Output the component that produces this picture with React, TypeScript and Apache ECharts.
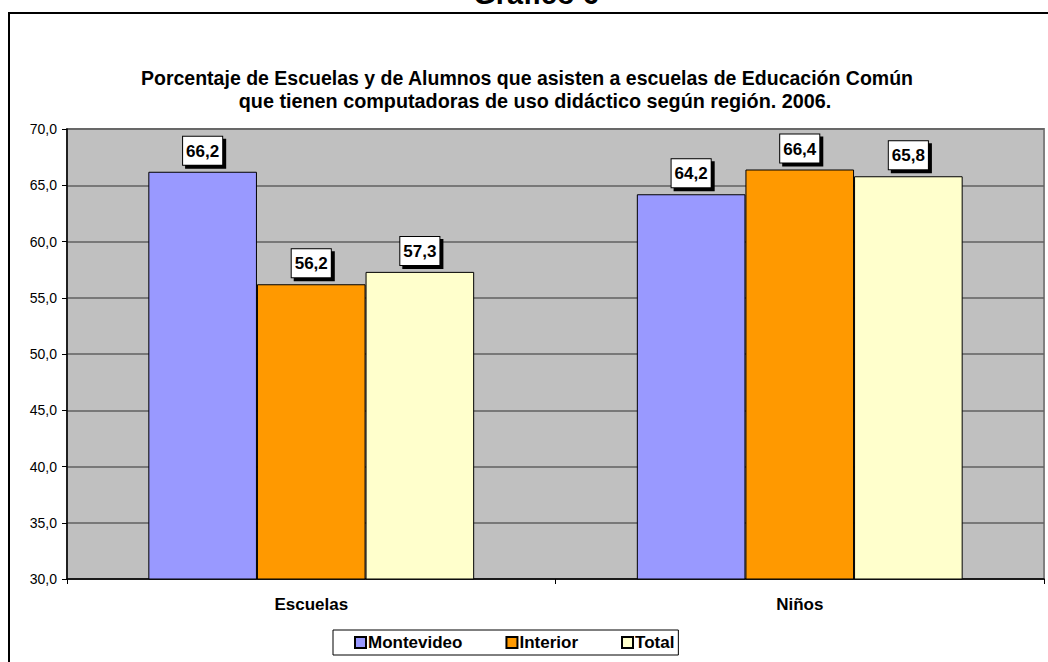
import React, { useEffect, useRef } from "react";
import * as echarts from "echarts";

const categories = ["Escuelas", "Niños"];
const seriesNames = ["Montevideo", "Interior", "Total"];
const montevideo = [66.2, 64.2];
const interior = [56.2, 66.4];
const total = [57.3, 65.8];
const seriesColors = ["#9999FF", "#FF9900", "#FFFFCC"];
const yMin = 30;
const yMax = 70;
const yStep = 5;
const chartTitle = "Gráfico 6";
const subtitleLines = [
  "Porcentaje de Escuelas y de Alumnos que asisten a escuelas de Educación Común",
  "que tienen computadoras de uso didáctico según región. 2006.",
];

const FONT = "'Liberation Sans', Arial, sans-serif";
const fmt = (v: number) => v.toFixed(1).replace(".", ",");

export default function App() {
  const ref = useRef<HTMLDivElement>(null);
  useEffect(() => {
    if (!ref.current) return;
    const chart = echarts.init(ref.current, undefined, { renderer: "svg" });
    const values = [montevideo, interior, total];
    chart.setOption({
      animation: false,
      backgroundColor: "#ffffff",
      textStyle: { fontFamily: FONT },
      graphic: [
        {
          type: "text",
          x: 536,
          y: 8,
          style: {
            text: chartTitle,
            font: `bold 29px ${FONT}`,
            fill: "#000",
            textAlign: "center",
            textVerticalAlign: "bottom",
          },
        },
        {
          type: "line",
          shape: { x1: 8, y1: 13, x2: 1048, y2: 13 },
          style: { stroke: "#000", lineWidth: 2 },
        },
        {
          type: "line",
          shape: { x1: 9, y1: 12, x2: 9, y2: 662 },
          style: { stroke: "#000", lineWidth: 2 },
        },
        {
          type: "text",
          x: 527,
          y: 78,
          style: {
            text: subtitleLines[0],
            font: `bold 19.5px ${FONT}`,
            fill: "#000",
            textAlign: "center",
            textVerticalAlign: "middle",
          },
        },
        {
          type: "text",
          x: 535,
          y: 101,
          style: {
            text: subtitleLines[1],
            font: `bold 19.8px ${FONT}`,
            fill: "#000",
            textAlign: "center",
            textVerticalAlign: "middle",
          },
        },
      ],
      legend: {
        data: seriesNames,
        left: 333,
        top: 630,
        orient: "horizontal",
        itemWidth: 11,
        itemHeight: 11,
        itemGap: 43,
        padding: [4, 4, 4, 21],
        borderColor: "#000",
        borderWidth: 1,
        backgroundColor: "#fff",
        icon: "rect",
        textStyle: { fontFamily: FONT, fontWeight: "bold", fontSize: 17, color: "#000", padding: [0, 0, 0, -3] },
      },
      grid: {
        left: 67,
        right: 4,
        top: 129,
        bottom: 83,
        show: true,
        backgroundColor: "#C0C0C0",
        borderColor: "#808080",
        borderWidth: 2,
      },
      xAxis: {
        type: "category",
        data: categories,
        boundaryGap: true,
        axisLine: { lineStyle: { color: "#000", width: 1.5 } },
        axisTick: { show: true, length: 5, lineStyle: { color: "#000" } },
        axisLabel: {
          margin: 17,
          fontFamily: FONT,
          fontWeight: "bold",
          fontSize: 17,
          color: "#000",
        },
      },
      yAxis: {
        type: "value",
        min: yMin,
        max: yMax,
        interval: yStep,
        axisLine: { show: true, lineStyle: { color: "#000", width: 1.5 } },
        axisTick: { show: true, length: 5, lineStyle: { color: "#000" } },
        axisLabel: {
          margin: 10,
          fontFamily: FONT,
          fontSize: 14,
          color: "#000",
          formatter: (v: number) => fmt(v),
        },
        splitLine: { show: true, lineStyle: { color: "#606060", width: 1.5 } },
      },
      series: seriesNames.map((name, i) => ({
        name,
        type: "bar",
        data: values[i],
        barGap: "0%",
        barCategoryGap: "33.3%",
        itemStyle: { color: seriesColors[i], borderColor: "#000", borderWidth: 1 },
        label: {
          show: true,
          position: "top",
          distance: 7,
          formatter: (p: any) => fmt(p.value),
          fontFamily: FONT,
          fontWeight: "bold",
          fontSize: 17,
          color: "#000",
          backgroundColor: "#fff",
          borderColor: "#000",
          borderWidth: 1,
          padding: [6, 3, 5, 3],
          shadowColor: "#000",
          shadowBlur: 0,
          shadowOffsetX: 3,
          shadowOffsetY: 3,
        },
      })),
    });
    return () => chart.dispose();
  }, []);
  return (
    <div
      ref={ref}
      style={{ position: "fixed", left: 0, top: 0, width: 1048, height: 662 }}
    />
  );
}
